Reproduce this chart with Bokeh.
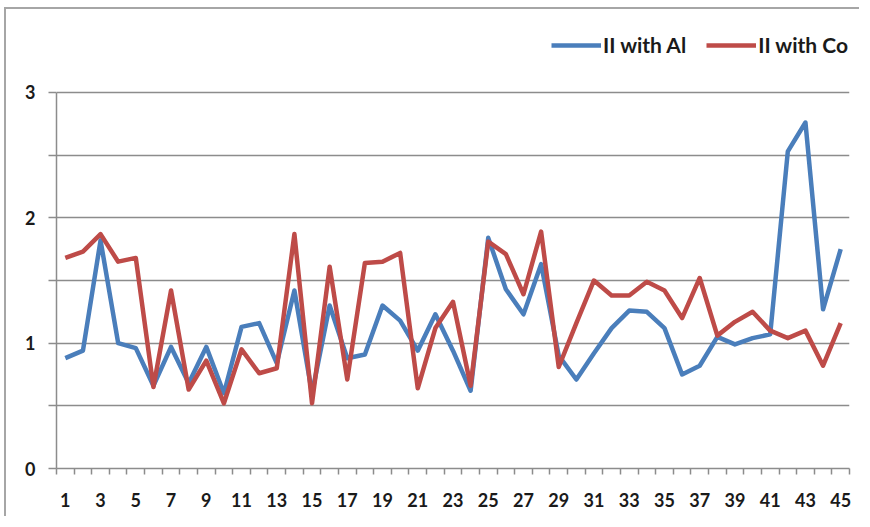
from bokeh.plotting import figure
from bokeh.models import FixedTicker, Legend, LegendItem, Range1d, ColumnDataSource
from bokeh.embed import file_html
from bokeh.resources import INLINE

categories = list(range(1, 46))
al_values = [0.88, 0.94, 1.82, 1.00, 0.96, 0.66, 0.97, 0.68, 0.97, 0.60,
             1.13, 1.16, 0.84, 1.42, 0.60, 1.30, 0.88, 0.91, 1.30, 1.18,
             0.94, 1.23, 0.94, 0.62, 1.84, 1.43, 1.23, 1.63, 0.90, 0.71,
             0.92, 1.12, 1.26, 1.25, 1.12, 0.75, 0.82, 1.05, 0.99, 1.04,
             1.07, 2.53, 2.76, 1.27, 1.75]
co_values = [1.68, 1.73, 1.87, 1.65, 1.68, 0.65, 1.42, 0.63, 0.86, 0.52,
             0.95, 0.76, 0.80, 1.87, 0.52, 1.61, 0.71, 1.64, 1.65, 1.72,
             0.64, 1.12, 1.33, 0.66, 1.81, 1.71, 1.39, 1.89, 0.81, 1.16,
             1.50, 1.38, 1.38, 1.49, 1.42, 1.20, 1.52, 1.06, 1.17, 1.25,
             1.10, 1.04, 1.10, 0.82, 1.16]
y_ticks = [0, 0.5, 1, 1.5, 2, 2.5, 3]
y_labels = {0: "0", 0.5: "", 1: "1", 1.5: "", 2: "2", 2.5: "", 3: "3"}
x_label_ticks = list(range(1, 46, 2))
series_names = ["II with Al", "II with Co"]

FONT = "Lato"
GRAY = "#8c8c8c"
BLUE = "#4a7ebb"
RED = "#be4b48"

src = ColumnDataSource(dict(x=categories, al=al_values, co=co_values))

# frame extends above the value 3 so the legend can sit inside it
p = figure(width=855, height=509, output_backend="svg", toolbar_location=None,
           x_range=Range1d(0.5, 45.5), y_range=Range1d(0, 3.582),
           min_border_left=50, min_border_right=12,
           min_border_top=10, min_border_bottom=50)
p.outline_line_color = None
p.background_fill_color = "white"
p.border_fill_color = "white"
p.styles = {"border-left": "2px solid #a6a6a6", "border-top": "2px solid #a6a6a6",
            "margin-left": "4px", "margin-top": "7px"}

r_al = p.line("x", "al", source=src, line_color=BLUE, line_width=4.5, line_join="round")
r_co = p.line("x", "co", source=src, line_color=RED, line_width=4.5, line_join="round")

# y axis
p.yaxis.bounds = (0, 3)
p.yaxis.ticker = FixedTicker(ticks=y_ticks, minor_ticks=[])
p.yaxis.major_label_overrides = y_labels
p.yaxis.axis_line_color = GRAY
p.yaxis.axis_line_width = 1.5
p.yaxis.major_tick_line_color = GRAY
p.yaxis.major_tick_line_width = 1.5
p.yaxis.major_tick_out = 8
p.yaxis.major_tick_in = 0
p.yaxis.minor_tick_line_color = None
p.yaxis.major_label_standoff = 13
p.yaxis.major_label_text_font = FONT
p.yaxis.major_label_text_font_style = "bold"
p.yaxis.major_label_text_font_size = "18px"
p.yaxis.major_label_text_color = "#1a1a1a"

# x axis
p.xaxis.ticker = FixedTicker(ticks=x_label_ticks,
                             minor_ticks=[c - 0.5 for c in categories] + [45.5])
p.xaxis.axis_line_color = GRAY
p.xaxis.axis_line_width = 1.5
p.xaxis.major_tick_line_color = None
p.xaxis.major_tick_out = 0
p.xaxis.major_tick_in = 0
p.xaxis.minor_tick_line_color = GRAY
p.xaxis.minor_tick_line_width = 1.5
p.xaxis.minor_tick_out = 6
p.xaxis.minor_tick_in = 0
p.xaxis.major_label_standoff = 18
p.xaxis.major_label_text_font = FONT
p.xaxis.major_label_text_font_style = "bold"
p.xaxis.major_label_text_font_size = "18px"
p.xaxis.major_label_text_color = "#1a1a1a"

# grid
p.xgrid.grid_line_color = None
p.ygrid.ticker = FixedTicker(ticks=y_ticks)
p.ygrid.grid_line_color = GRAY
p.ygrid.grid_line_width = 1.5

legend = Legend(items=[LegendItem(label=series_names[0], renderers=[r_al]),
                       LegendItem(label=series_names[1], renderers=[r_co])],
                orientation="horizontal", location=(495, 411),
                border_line_color=None, background_fill_alpha=0,
                padding=0, margin=0, spacing=20, label_standoff=2,
                glyph_width=50, glyph_height=20,
                label_text_font=FONT, label_text_font_style="bold",
                label_text_font_size="21px", label_text_color="#1a1a1a")
p.add_layout(legend, "center")

open("out.html", "w").write(file_html(p, INLINE))
